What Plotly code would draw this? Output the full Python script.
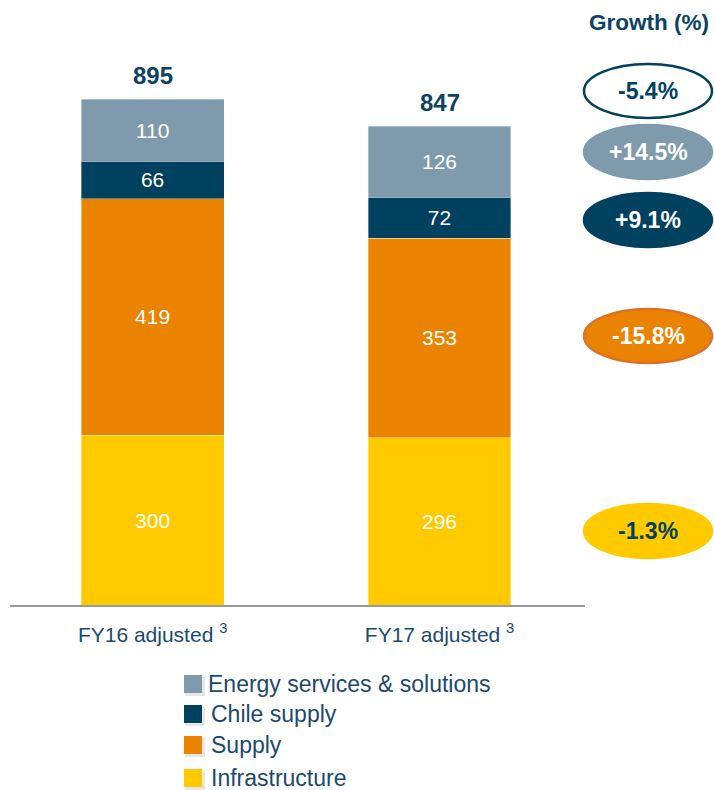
import plotly.graph_objects as go

categories = ["FY16 adjusted <sup>3</sup>", "FY17 adjusted <sup>3</sup>"]
infrastructure = [300, 296]
supply = [419, 353]
chile_supply = [66, 72]
energy_services = [110, 126]
totals = [895, 847]
growth_labels = ["-5.4%", "+14.5%", "+9.1%", "-15.8%", "-1.3%"]
legend_names = ["Energy services & solutions", "Chile supply", "Supply", "Infrastructure"]

NAVY = "#00415F"
GREY = "#7F9BAB"
ORANGE = "#E98300"
YELLOW = "#FFCB00"
TEXT = "#1B4A6C"
FONT = "Liberation Sans, Arial"

W, H = 714, 790
ML, MR, MT, MB = 10, 714 - 585, 0, 790 - 605
PW, PH = W - ML - MR, H - MT - MB


def px(x):  # page pixel -> paper x
    return (x - ML) / PW


def py(y):  # page pixel -> paper y
    return (H - MB - y) / PH


fig = go.Figure()
series = [
    ("Infrastructure", infrastructure, YELLOW),
    ("Supply", supply, ORANGE),
    ("Chile supply", chile_supply, NAVY),
    ("Energy services & solutions", energy_services, GREY),
]
for name, vals, col in series:
    fig.add_trace(go.Bar(
        x=categories, y=vals, name=name,
        marker=dict(color=col, line=dict(color="rgba(255,255,255,0.6)", width=0.6)),
        text=[str(v) for v in vals], textposition="inside", insidetextanchor="middle",
        textfont=dict(color="white", size=21, family=FONT),
        width=0.498, hoverinfo="skip", showlegend=False,
    ))

for c, t in zip(categories, totals):
    fig.add_annotation(x=c, y=t, text=f"<b>{t}</b>", showarrow=False, yanchor="bottom",
                       yshift=8, font=dict(size=24, color="#0D4263", family=FONT))

# Growth bubbles
bubble_y = [91, 152, 220, 336, 531]
bubble_fill = ["white", GREY, NAVY, ORANGE, YELLOW]
bubble_line = [NAVY, GREY, NAVY, "#D9722A", YELLOW]
bubble_text = [NAVY, "white", "white", "white", NAVY]
for lab, cy, f, l, tc in zip(growth_labels, bubble_y, bubble_fill, bubble_line, bubble_text):
    fig.add_shape(type="circle", xref="paper", yref="paper",
                  x0=px(584), x1=px(712), y0=py(cy + 27), y1=py(cy - 27),
                  fillcolor=f, line=dict(color=l, width=2.5), layer="above")
    fig.add_annotation(xref="paper", yref="paper", x=px(648.5), y=py(cy), text=f"<b>{lab}</b>",
                       xanchor="center", yanchor="middle",
                       showarrow=False, font=dict(size=23, color=tc, family=FONT))

fig.add_annotation(xref="paper", yref="paper", x=px(649), y=py(22), text="<b>Growth (%)</b>",
                   xanchor="center", yanchor="middle",
                   showarrow=False, font=dict(size=22.5, color="#0D4263", family=FONT))

# Legend (manual, matching the reference layout)
legend_colors = {"Energy services & solutions": GREY, "Chile supply": NAVY,
                 "Supply": ORANGE, "Infrastructure": YELLOW}
legend_rows = [684, 714, 745, 778]
legend_text_x = [206, 209, 209, 209]
for name, ry, tx in zip(legend_names, legend_rows, legend_text_x):
    fig.add_shape(type="rect", xref="paper", yref="paper",
                  x0=px(185), x1=px(205), y0=py(ry + 12), y1=py(ry - 7),
                  fillcolor="rgba(120,120,120,0.18)", line=dict(width=0))
    fig.add_shape(type="rect", xref="paper", yref="paper",
                  x0=px(184), x1=px(202), y0=py(ry + 9), y1=py(ry - 9),
                  fillcolor=legend_colors[name], line=dict(width=0))
    fig.add_annotation(xref="paper", yref="paper", x=px(tx), y=py(ry), text=name,
                       xanchor="left", yanchor="middle", showarrow=False,
                       font=dict(size=23, color=TEXT, family=FONT))

fig.update_layout(
    width=W, height=H, barmode="stack",
    margin=dict(l=ML, r=MR, t=MT, b=MB, autoexpand=False),
    paper_bgcolor="white", plot_bgcolor="white",
    font=dict(family=FONT, color=TEXT),
    xaxis=dict(range=[-0.497, 1.507], showline=True, linecolor="#999999", linewidth=2,
               ticks="", tickfont=dict(size=21, color=TEXT), showgrid=False,
               ticklabelstandoff=10),
    yaxis=dict(range=[0, PH / 0.5653], visible=False, showgrid=False),
    showlegend=False,
    uniformtext=dict(mode=False),
)

fig.write_html("out.html", config={"displayModeBar": False},
               post_script="document.body.style.margin='0';document.body.style.overflow='hidden';")
